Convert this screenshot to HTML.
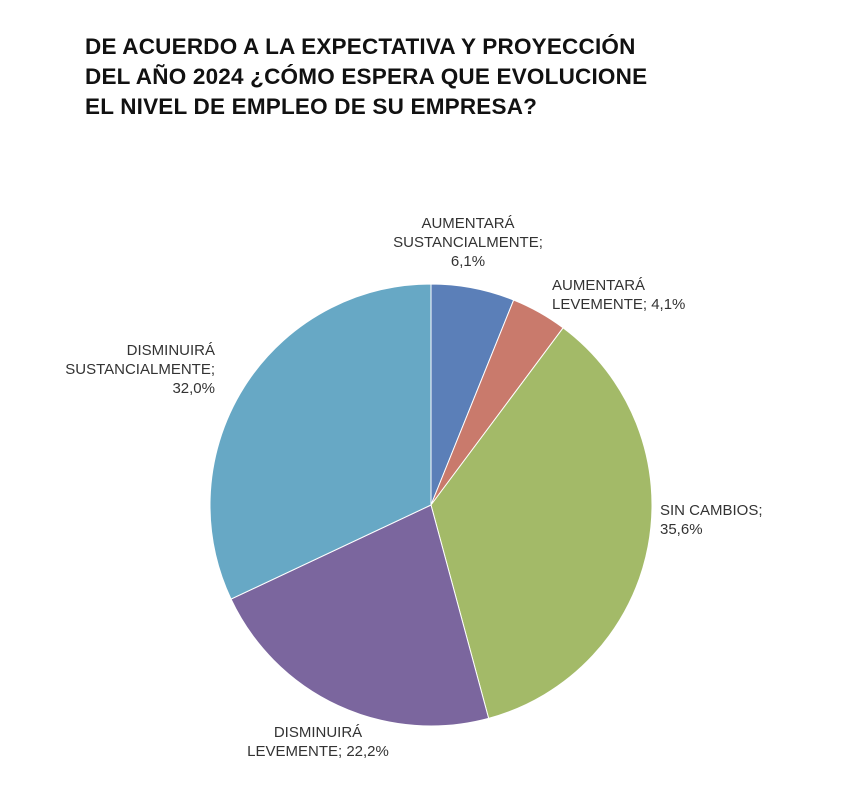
<!DOCTYPE html>
<html><head><meta charset="utf-8"><style>
body{margin:0;width:862px;height:797px;background:#fff;font-family:"Liberation Sans",sans-serif;overflow:hidden}
.t{position:absolute;left:85px;top:32px;font-weight:bold;font-size:22.5px;line-height:30px;color:#111;letter-spacing:0.2px}
</style></head><body>
<div class="t">DE ACUERDO A LA EXPECTATIVA Y PROYECCIÓN<br>DEL AÑO 2024 ¿CÓMO ESPERA QUE EVOLUCIONE<br>EL NIVEL DE EMPLEO DE SU EMPRESA?</div>
<svg width="862" height="797" style="position:absolute;left:0;top:0">
<g id="slices"></g><g id="labels"></g>
</svg>
<script>
const categories=["AUMENTARÁ SUSTANCIALMENTE","AUMENTARÁ LEVEMENTE","SIN CAMBIOS","DISMINUIRÁ LEVEMENTE","DISMINUIRÁ SUSTANCIALMENTE"];
const values=[6.1,4.1,35.6,22.2,32.0];
const valueLabels=["6,1%","4,1%","35,6%","22,2%","32,0%"];
const colors=["#5b7fb8","#c97a6c","#a3ba68","#7b669e","#67a8c5"];
const labelLines=[["AUMENTARÁ","SUSTANCIALMENTE;","6,1%"],["AUMENTARÁ","LEVEMENTE; 4,1%"],["SIN CAMBIOS;","35,6%"],["DISMINUIRÁ","LEVEMENTE; 22,2%"],["DISMINUIRÁ","SUSTANCIALMENTE;","32,0%"]];
const labelPos=[[468,228,"middle"],[552,290,"start"],[660,515,"start"],[318,737,"middle"],[215,355,"end"]];
const cx=431,cy=505,r=221,ns="http://www.w3.org/2000/svg";
const total=values.reduce((a,b)=>a+b,0);
let a0=-Math.PI/2;
const gs=document.getElementById('slices'),gl=document.getElementById('labels');
values.forEach((v,i)=>{
  const a1=a0+v/total*2*Math.PI;
  const x0=cx+r*Math.cos(a0),y0=cy+r*Math.sin(a0),x1=cx+r*Math.cos(a1),y1=cy+r*Math.sin(a1);
  const p=document.createElementNS(ns,'path');
  p.setAttribute('d',`M${cx},${cy}L${x0},${y0}A${r},${r} 0 ${a1-a0>Math.PI?1:0} 1 ${x1},${y1}Z`);
  p.setAttribute('fill',colors[i]);p.setAttribute('stroke','#fff');p.setAttribute('stroke-width','1');
  
  
  gs.appendChild(p);
  const t=document.createElementNS(ns,'text');
  t.setAttribute('x',labelPos[i][0]);t.setAttribute('y',labelPos[i][1]);
  t.setAttribute('text-anchor',labelPos[i][2]);t.setAttribute('font-size','15');t.setAttribute('fill','#333');
  
  
  labelLines[i].forEach((s,j)=>{const ts=document.createElementNS(ns,'tspan');ts.setAttribute('x',labelPos[i][0]);ts.setAttribute('dy',j?'19':'0');ts.textContent=s;t.appendChild(ts);});
  gl.appendChild(t);
  a0=a1;
});
</script>
</body></html>
